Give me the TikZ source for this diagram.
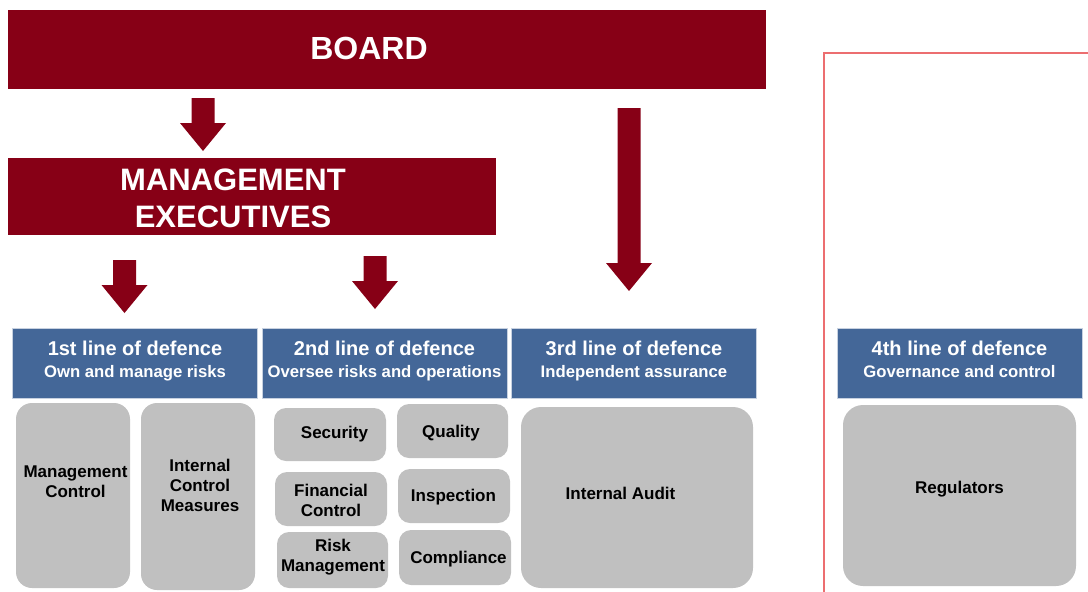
\documentclass[tikz,border=0pt]{standalone}
\usepackage{fontspec}
\setmainfont{Liberation Sans}

\definecolor{boardred}{RGB}{135,0,22}
\definecolor{lineblue}{RGB}{68,103,152}
\definecolor{boxgray}{RGB}{192,192,192}
\definecolor{framered}{RGB}{236,110,112}

\tikzset{
  redbox/.style={fill=boardred, inner sep=0pt},
  redtext/.style={text=white, font=\bfseries\fontsize{31}{37}\selectfont, align=center},
  hdrbox/.style={fill=lineblue, draw=white!70!lineblue, line width=0.8pt,
    minimum width=245, minimum height=70, inner sep=0pt},
  hdrtitle/.style={text=white, anchor=base, inner sep=0pt, font=\bfseries\fontsize{20}{22}\selectfont},
  hdrsub/.style={text=white, anchor=base, inner sep=0pt, font=\bfseries\fontsize{16.7}{20}\selectfont},
  graybox/.style={fill=boxgray, rounded corners=#1, inner sep=0pt},
  graytext/.style={inner sep=0pt, align=center, font=\bfseries\fontsize{17}{20}\selectfont},
  frameline/.style={draw=framered, line width=1.6pt}
}

% block arrow: x, top, tip
\newcommand{\blockarrow}[3]{%
  \fill[boardred] (#1-11.5,#2) -- (#1+11.5,#2) -- (#1+11.5,#3-28) -- (#1+23,#3-28)
    -- (#1,#3) -- (#1-23,#3-28) -- (#1-11.5,#3-28) -- cycle;}

\begin{document}
\begin{tikzpicture}[x=1pt, y=-1pt]
  \useasboundingbox (0,0) rectangle (1088,592);

  % board and management
  \node[redbox, minimum width=758, minimum height=79] (board) at (387,49.5) {};
  \node[redtext, font=\bfseries\fontsize{32}{37}\selectfont] (board-t) at (369,48) {BOARD};
  \node[redbox, minimum width=488, minimum height=77] (mgmt) at (252,196.5) {};
  \node[redtext] (mgmt-t) at (233,198.5) {MANAGEMENT\\EXECUTIVES};

  \blockarrow{203}{98}{151}
  \blockarrow{124.5}{260}{313}
  \blockarrow{375}{256}{309}
  \blockarrow{629}{108}{291}

  % lines of defence
  \foreach \nm/\cx/\ttl/\sub in {h1/135/1st line of defence/Own and manage risks,
      h2/384.5/2nd line of defence/Oversee risks and operations,
      h3/634/3rd line of defence/Independent assurance,
      h4/959.5/4th line of defence/Governance and control} {
    \node[hdrbox] (\nm) at (\cx,363) {};
    \node[hdrtitle] (\nm-title) at (\cx,355) {\ttl};
    \node[hdrsub] (\nm-sub) at (\cx,377) {\sub};
  }

  % functions
  \foreach \nm/\cx/\cy/\w/\h/\r/\tx/\ty/\txt in {
      mc/73/495.5/114/185/16/75.5/482/{Management\\Control},
      icm/198/496.5/114/187/16/200/485.5/{Internal\\Control\\Measures},
      sec/330/434.5/112/53/12/334.5/434/Security,
      qual/452.5/431/111/54/12/451/433/Quality,
      fin/331/499/112/54/12/331/500/{Financial\\Control},
      insp/454/496/112/54/12/453.5/497/Inspection,
      risk/332.5/560/111/56/12/333/557/{Risk\\Management},
      comp/455/557.5/112/55/12/458.5/559/Compliance,
      ia/637/497.5/232/181/20/620.5/493/Internal Audit,
      reg/959.5/495.5/233/181/20/959.5/489/Regulators} {
    \node[graybox=\r, minimum width=\w, minimum height=\h] (\nm) at (\cx,\cy) {};
    \node[graytext] (\nm-t) at (\tx,\ty) {\txt};
  }

  \draw[frameline] (824,592) -- (824,53) -- (1088,53);
\end{tikzpicture}
\end{document}
